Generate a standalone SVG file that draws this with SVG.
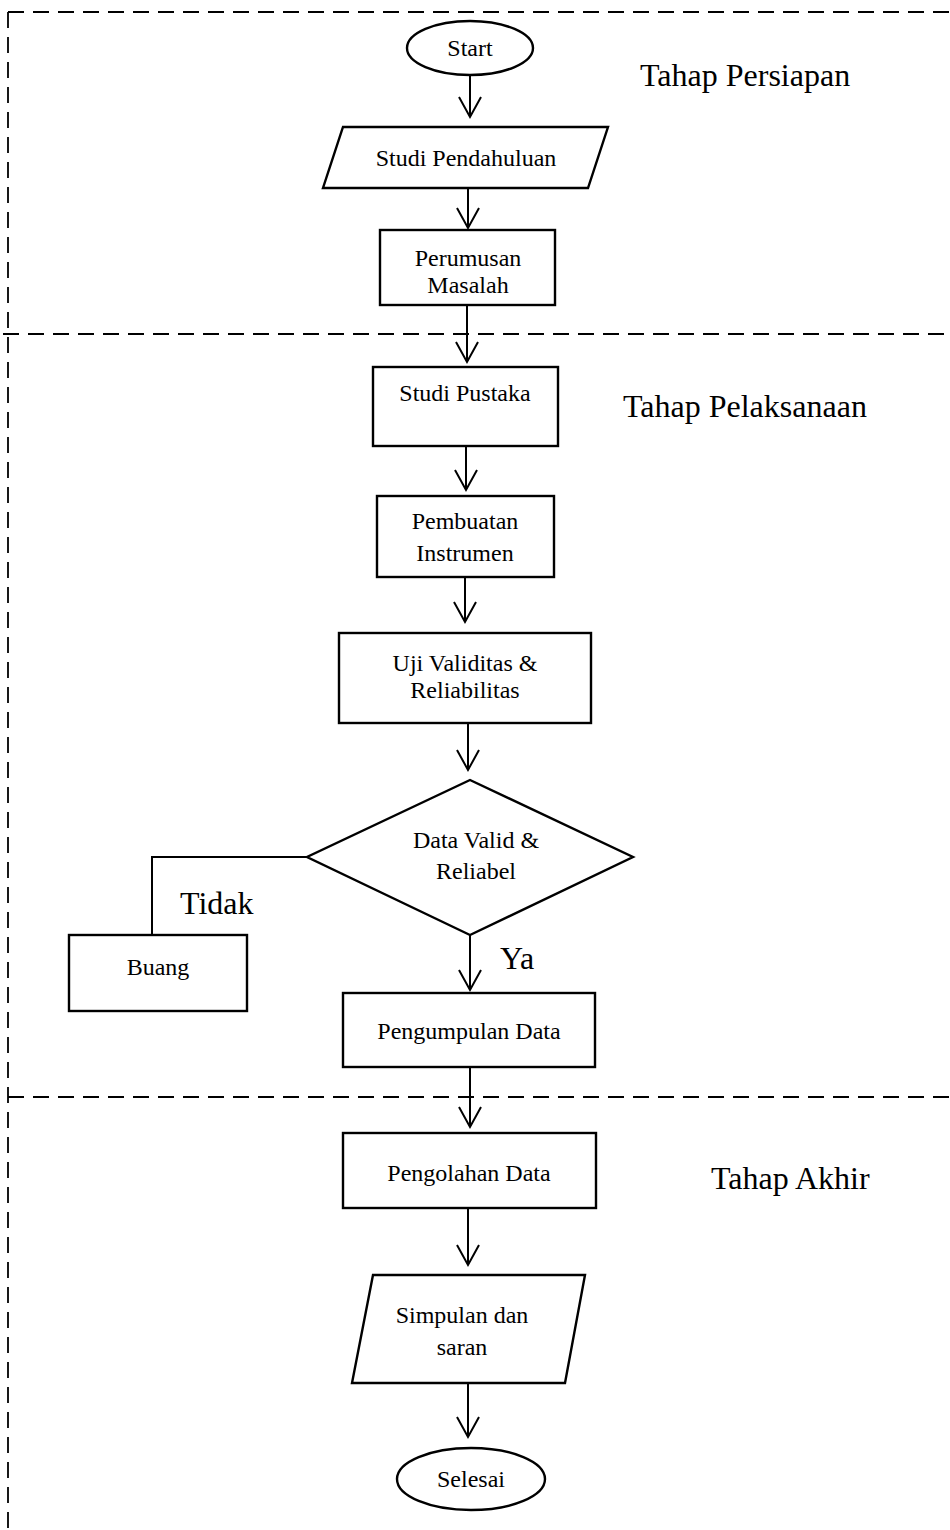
<svg xmlns="http://www.w3.org/2000/svg" width="950" height="1530" viewBox="0 0 950 1530">
<defs>
<style>
.shape{fill:#fff;stroke:#000;stroke-width:2.4}
.t{font-family:"Liberation Serif","Times New Roman",serif;font-size:24px;fill:#000;text-anchor:middle}
.lbl{font-family:"Liberation Serif","Times New Roman",serif;font-size:32px;fill:#000}
.dash{fill:none;stroke:#000;stroke-width:1.8;stroke-dasharray:16 9}
.con{fill:none;stroke:#000;stroke-width:2}
</style>
</defs>
<rect width="950" height="1530" fill="#fff"/>
<g id="lanes">
<path class="dash" d="M8,12 H950 M8,12 V1530 M3,334 H950 M8,1097 H950"/>
</g>
<g id="connectors">
<path class="con" d="M470,75 V117 M459,97 L470,117 L481,97"/>
<path class="con" d="M468,188 V228 M457,208 L468,228 L479,208"/>
<path class="con" d="M467,305 V362 M456,342 L467,362 L478,342"/>
<path class="con" d="M466,446 V490 M455,470 L466,490 L477,470"/>
<path class="con" d="M465,577 V622 M454,602 L465,622 L476,602"/>
<path class="con" d="M468,723 V770 M457,750 L468,770 L479,750"/>
<path class="con" d="M307,857 H152 V935"/>
<path class="con" d="M470,935 V990 M459,970 L470,990 L481,970"/>
<path class="con" d="M470,1067 V1127 M459,1107 L470,1127 L481,1107"/>
<path class="con" d="M468,1208 V1265 M457,1245 L468,1265 L479,1245"/>
<path class="con" d="M468,1383 V1437 M457,1417 L468,1437 L479,1417"/>
</g>
<g id="start"><ellipse class="shape" cx="470" cy="48" rx="63" ry="27"/><text class="t" x="470" y="56">Start</text></g>
<g id="studi-pendahuluan"><polygon class="shape" points="343,127 608,127 588,188 323,188"/><text class="t" x="466" y="166">Studi Pendahuluan</text></g>
<g id="perumusan"><rect class="shape" x="380" y="230" width="175" height="75"/><text class="t" x="468" y="266">Perumusan</text><text class="t" x="468" y="293">Masalah</text></g>
<g id="studi-pustaka"><rect class="shape" x="373" y="367" width="185" height="79"/><text class="t" x="465" y="401">Studi Pustaka</text></g>
<g id="pembuatan"><rect class="shape" x="377" y="496" width="177" height="81"/><text class="t" x="465" y="529">Pembuatan</text><text class="t" x="465" y="561">Instrumen</text></g>
<g id="uji"><rect class="shape" x="339" y="633" width="252" height="90"/><text class="t" x="465" y="671">Uji Validitas &amp;</text><text class="t" x="465" y="698">Reliabilitas</text></g>
<g id="decision"><polygon class="shape" points="470,780 633,857 470,935 307,857"/><text class="t" x="476" y="848">Data Valid &amp;</text><text class="t" x="476" y="879">Reliabel</text></g>
<g id="buang"><rect class="shape" x="69" y="935" width="178" height="76"/><text class="t" x="158" y="975">Buang</text></g>
<g id="pengumpulan"><rect class="shape" x="343" y="993" width="252" height="74"/><text class="t" x="469" y="1039">Pengumpulan Data</text></g>
<g id="pengolahan"><rect class="shape" x="343" y="1133" width="253" height="75"/><text class="t" x="469" y="1181">Pengolahan Data</text></g>
<g id="simpulan"><polygon class="shape" points="373,1275 585,1275 565,1383 352,1383"/><text class="t" x="462" y="1323">Simpulan dan</text><text class="t" x="462" y="1355">saran</text></g>
<g id="selesai"><ellipse class="shape" cx="471" cy="1479" rx="74" ry="31"/><text class="t" x="471" y="1487">Selesai</text></g>
<g id="labels">
<text class="lbl" x="640" y="86">Tahap Persiapan</text>
<text class="lbl" x="623" y="417">Tahap Pelaksanaan</text>
<text class="lbl" x="711" y="1189">Tahap Akhir</text>
<text class="lbl" x="180" y="914">Tidak</text>
<text class="lbl" x="500" y="969">Ya</text>
</g>
</svg>
